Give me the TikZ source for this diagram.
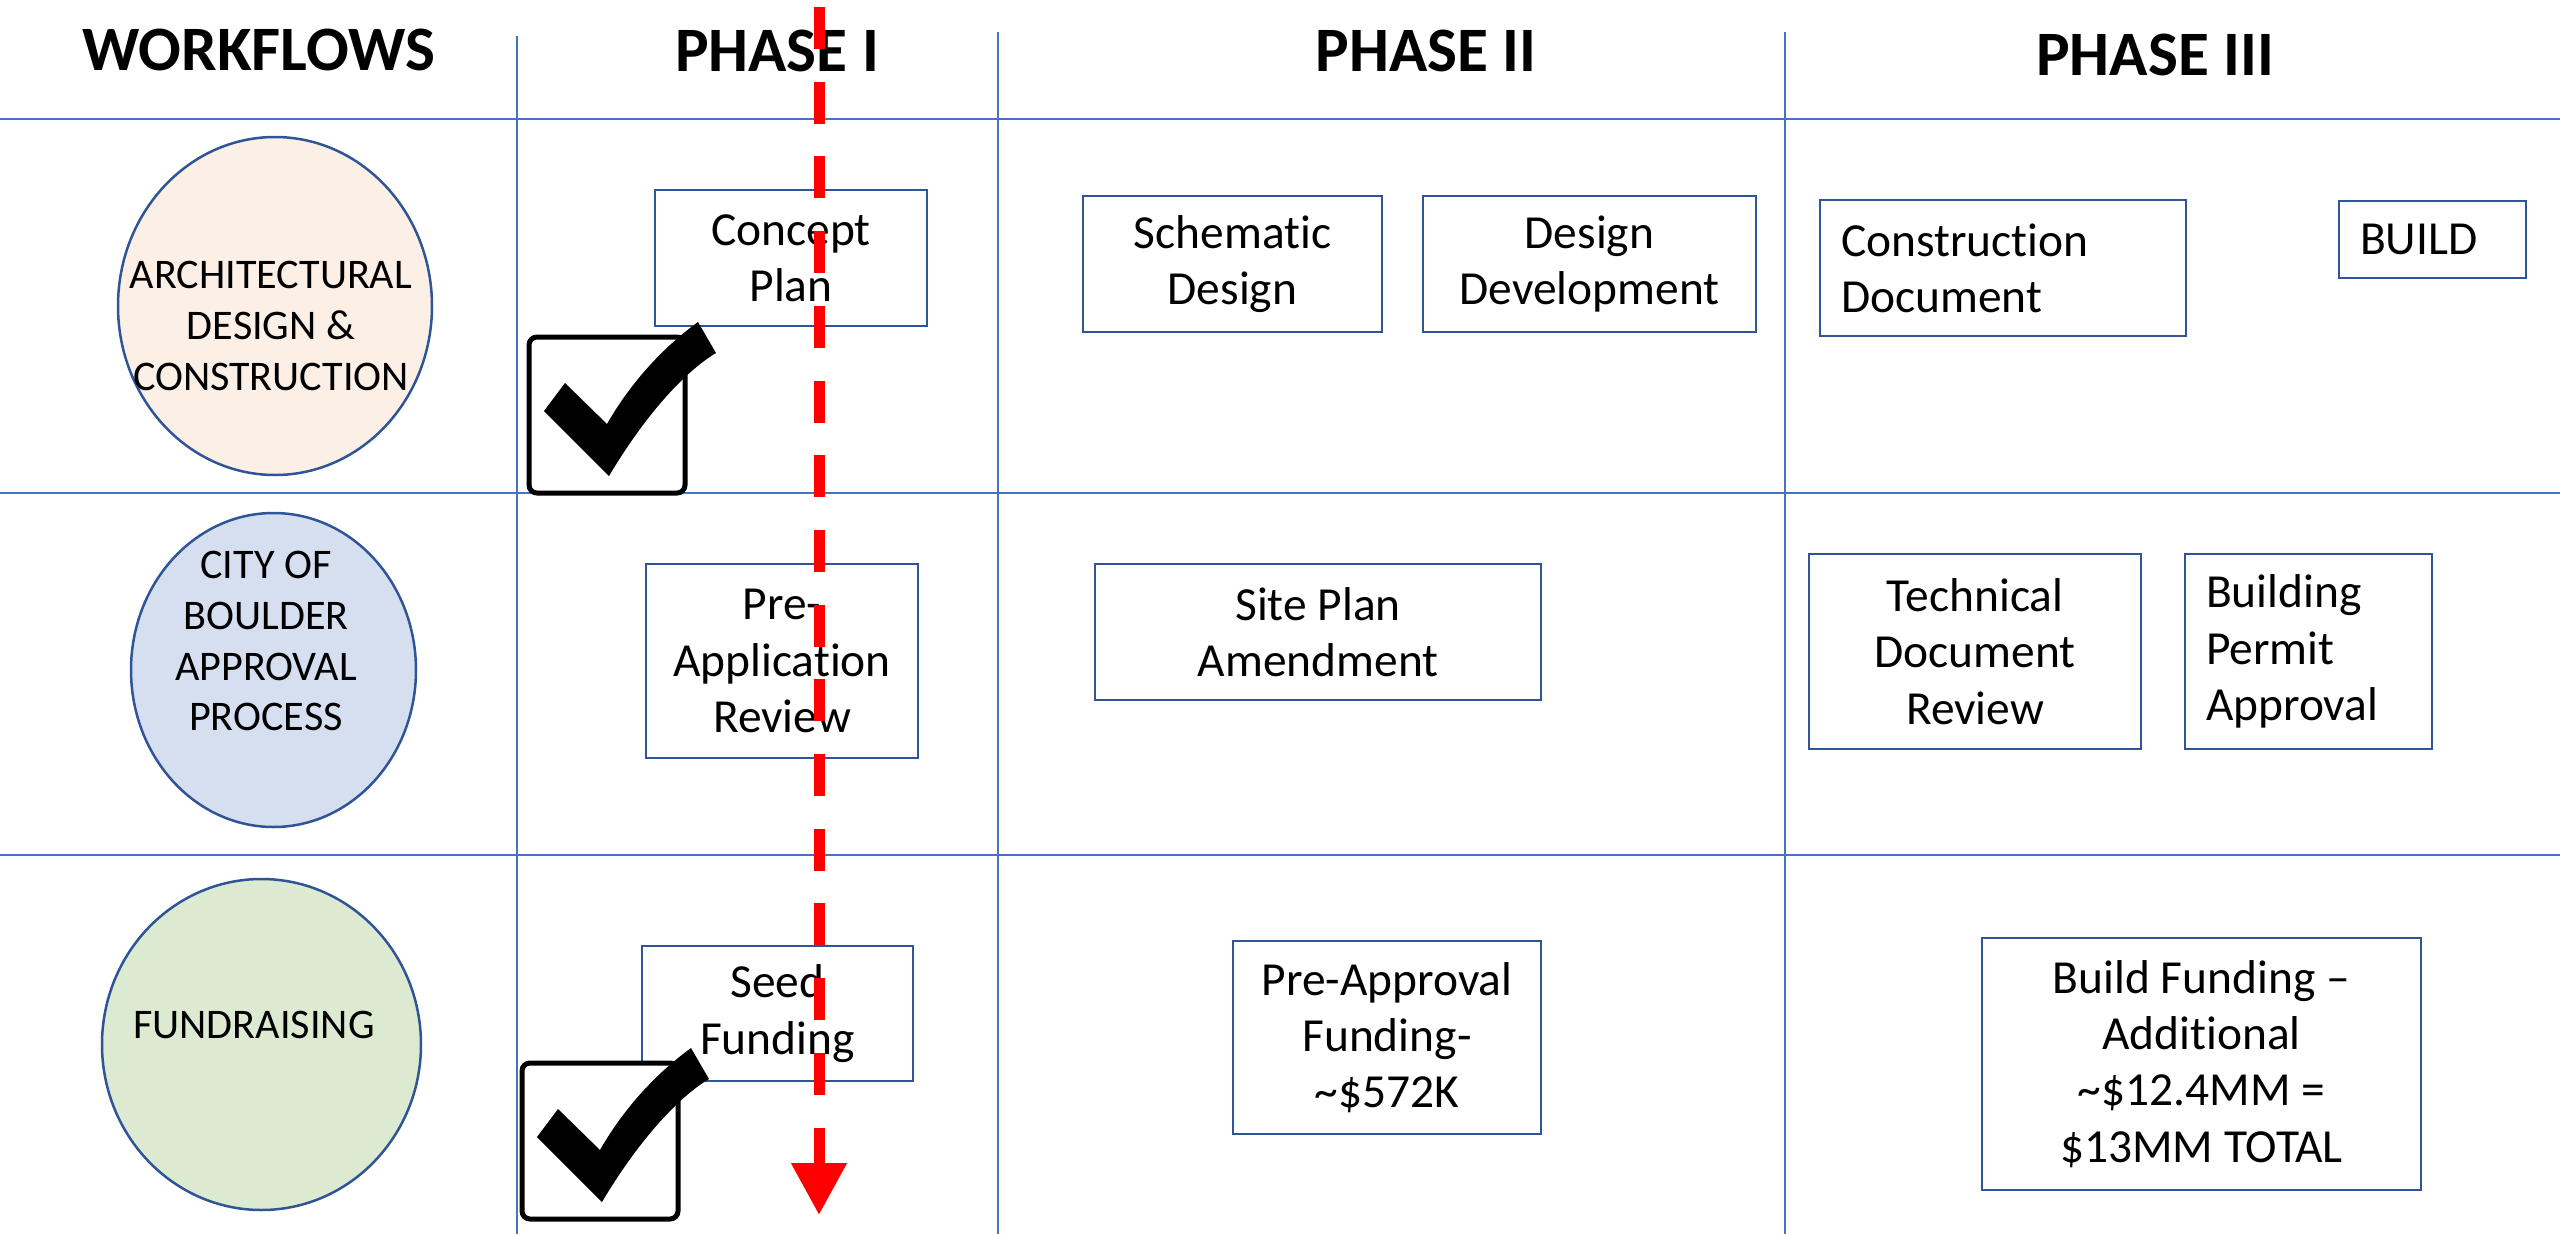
\documentclass[tikz,border=0pt]{standalone}
\usepackage{fontspec}
\setmainfont{Carlito}[Ligatures={TeX,NoCommon}]
\usepackage{tikz}
\usetikzlibrary{shapes.geometric}
\usetikzlibrary{arrows.meta}

\definecolor{bleugrille}{HTML}{4472C4}
\definecolor{bleubord}{HTML}{2F5597}
\definecolor{peche}{HTML}{FBEFE6}
\definecolor{bleuclair}{HTML}{D6DFF0}
\definecolor{vertclair}{HTML}{DCEAD2}

\begin{document}
\begin{tikzpicture}[x=0.1mm,y=-0.1mm]
% définition des styles
\tikzstyle grille=[color=bleugrille,line width=0.16mm]
\tikzstyle titre=[font=\fontsize{18}{21}\selectfont\bfseries,inner sep=0]
\tikzstyle bulle=[ellipse,draw=bleubord,line width=0.25mm,inner sep=0]
\tikzstyle textebulle=[font=\fontsize{12}{14.5}\selectfont,align=center,inner sep=0]
\tikzstyle boite=[draw=bleubord,line width=0.22mm,fill=white,inner sep=0,align=center,font=\fontsize{13.5}{16}\selectfont]
\tikzstyle boitegauche=[boite,align=left,inner xsep=2.1mm]
\tikzstyle caseacocher=[draw=black,line width=0.5mm,rounded corners=0.8mm,fill=white]
\tikzstyle coche=[fill=black]
\tikzstyle fleche=[draw=red,line width=1.1mm,dash pattern=on 4.2mm off 3.27mm,-{Triangle[length=5.2mm,width=5.3mm]}]

\useasboundingbox (0,0) rectangle (2560,1234);

% la grille
\foreach \y in {119,493,855}
    \draw[grille] (0,\y) -- (2560,\y);
\foreach \x/\d in {517/36,998/32,1785/32}
    \draw[grille] (\x,\d) -- (\x,1234);

% les titres
\node[titre] (workflows) at (259,50) {WORKFLOWS};
\node[titre] (phaseun) at (777,51) {PHASE I};
\node[titre] (phasedeux) at (1426,51) {PHASE II};
\node[titre] (phasetrois) at (2155,54.5) {PHASE III};

% les bulles
\node[bulle,fill=peche,minimum width=31.4mm,minimum height=33.8mm] (archi) at (275,306) {};
\node[textebulle] (textearchi) at (271,326) {ARCHITECTURAL\\DESIGN \&\\CONSTRUCTION};
\node[bulle,fill=bleuclair,minimum width=28.5mm,minimum height=31.4mm] (ville) at (273.5,670) {};
\node[textebulle] (texteville) at (266,641) {CITY OF\\BOULDER\\APPROVAL\\PROCESS};
\node[bulle,fill=vertclair,minimum width=31.9mm,minimum height=33.1mm] (fonds) at (261.5,1044.5) {};
\node[textebulle] (textefonds) at (254,1025) {FUNDRAISING};

% phase I
\node[boite,minimum width=27.2mm,minimum height=13.6mm] (concept) at (791,258) {Concept\\Plan};
\node[boite,minimum width=27.2mm,minimum height=19.4mm] (preapp) at (782,661) {Pre-\\Application\\Review};
\node[boite,minimum width=27.1mm,minimum height=13.5mm] (seed) at (777.5,1013.5) {Seed\\Funding};

% phase II
\node[boite,minimum width=29.9mm,minimum height=13.6mm] (schema) at (1232.5,264) {Schematic\\Design};
\node[boite,minimum width=33.3mm,minimum height=13.6mm] (devel) at (1589.5,264) {Design\\Development};
\node[boite,minimum width=44.6mm,minimum height=13.6mm] (siteplan) at (1318,632) {Site Plan\\Amendment};
\node[boite,minimum width=30.8mm,minimum height=19.3mm] (preapprob) at (1387,1037.5) {Pre-Approval\\Funding-\\\textasciitilde\$572K};

% phase III
\node[boitegauche,text width=32.4mm,minimum height=13.6mm] (constr) at (2003,268) {Construction\\Document};
\node[boitegauche,text width=14.5mm,minimum height=7.7mm] (build) at (2432.5,239.5) {BUILD};
\node[boite,minimum width=33.2mm,minimum height=19.5mm] (tech) at (1975,651.5) {Technical\\Document\\Review};
\node[boitegauche,text width=20.5mm,minimum height=19.5mm] (permis) at (2308.5,651.5) {Building\\Permit\\Approval};
\node[boite,minimum width=43.9mm,minimum height=25.2mm] (buildfund) at (2201.5,1064) {Build Funding --\\Additional\\\textasciitilde\$12.4MM =\\\$13MM TOTAL};

% les cases cochées
\foreach \cx/\cy in {529/337,522/1063}
{
    \draw[shift={(\cx,\cy)},caseacocher] (0,0) rectangle (156,156);
    \fill[shift={(\cx,\cy)},coche] (15,74) -- (36,46) -- (78,87) .. controls (98,52) and (128,15) .. (169,-15) -- (187,16) .. controls (155,35) and (115,80) .. (80,139) -- cycle;
}

% la flèche rouge
\coordinate (depart) at (819,7);
\coordinate (arrivee) at (819,1215);
\draw[fleche] (depart) -- (arrivee);
\end{tikzpicture}
\end{document}
